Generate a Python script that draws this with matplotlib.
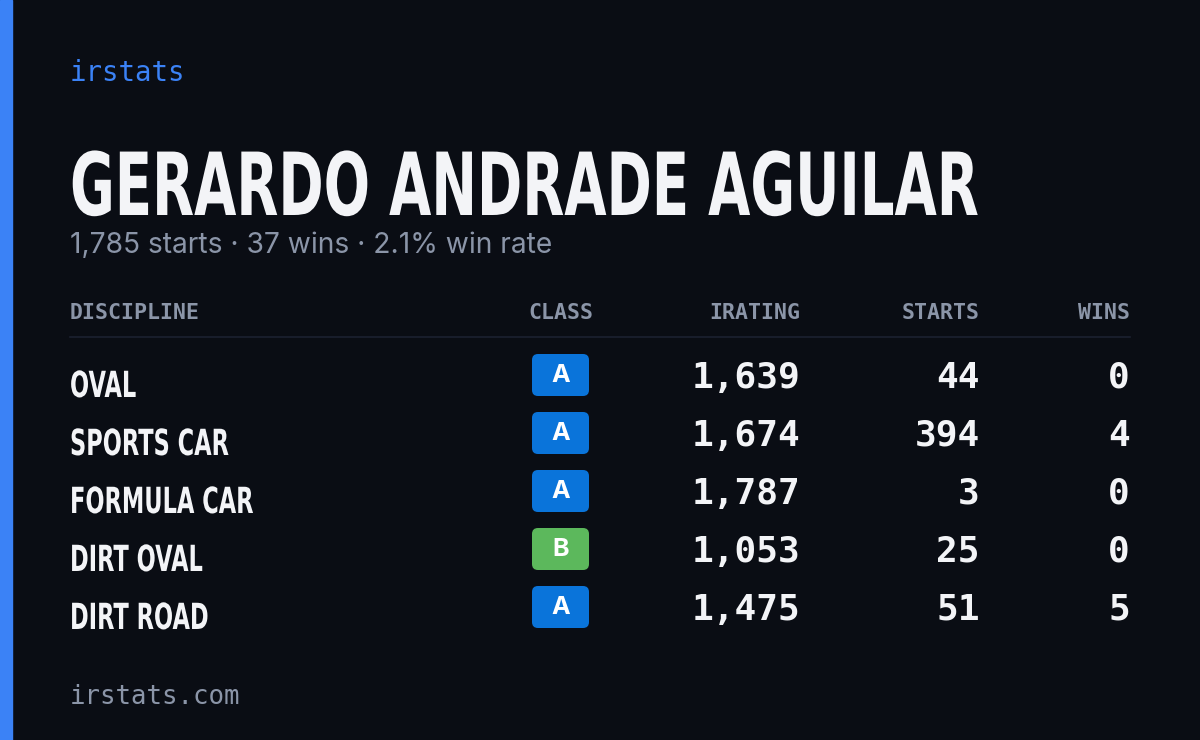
import matplotlib
matplotlib.use("Agg")
import matplotlib.pyplot as plt
from matplotlib.patches import FancyBboxPatch, Rectangle, PathPatch
from matplotlib.textpath import TextPath
from matplotlib.font_manager import FontProperties
from matplotlib.transforms import Affine2D

name = "GERARDO ANDRADE AGUILAR"
subtitle = "1,785 starts · 37 wins · 2.1% win rate"
headers = ["DISCIPLINE", "CLASS", "IRATING", "STARTS", "WINS"]
disciplines = ["OVAL", "SPORTS CAR", "FORMULA CAR", "DIRT OVAL", "DIRT ROAD"]
classes = ["A", "A", "A", "B", "A"]
iratings = [1639, 1674, 1787, 1053, 1475]
starts = [44, 394, 3, 25, 51]
wins = [0, 4, 0, 0, 5]

mono = "DejaVu Sans Mono"
sans = "Inter"
BG = "#0a0d14"; MUTED = "#8b95a8"; WHITE = "#f3f4f7"
fp = FontProperties(family="DejaVu Sans", weight="bold")

fig = plt.figure(figsize=(12, 7.4), dpi=100, facecolor=BG)
ax = fig.add_axes([0, 0, 1, 1]); ax.set_xlim(0, 1200); ax.set_ylim(740, 0); ax.axis("off")
ax.add_patch(Rectangle((0, 0), 12, 740, color="#3b82f6"))

def cond_text(s, x, baseline, size, sx):
    p = TextPath((0, 0), s, size=size, prop=fp)
    p = p.transformed(Affine2D().scale(sx, -1).translate(x, baseline))
    ax.add_patch(PathPatch(p, fc=WHITE, ec="none", lw=0))

def width(s, size):
    e = TextPath((0, 0), s, size=size, prop=fp).get_extents()
    return e.x1 - e.x0

ax.text(70, 73, "irstats", color="#3b82f6", fontsize=19.8, family=mono, va="center")
cond_text(name, 70, 215, 87, 905 / width(name, 87))
ax.text(70, 245, subtitle, color=MUTED, fontsize=20.3, family=sans, va="center")

hx = [(70, "left"), (593, "right"), (800, "right"), (980, "right"), (1130, "right")]
for (x, ha), h in zip(hx, headers):
    ax.text(x, 313, h, color=MUTED, fontsize=15.5, family=mono, weight="bold", ha=ha, va="center")
ax.plot([70, 1130], [337, 337], color="#1c2130", lw=1.2)

sxr = 181 / width("FORMULA CAR", 36)
for i, (d, c, r, s, w) in enumerate(zip(disciplines, classes, iratings, starts, wins)):
    y = 382 + 58 * i
    cond_text(d, 70, y + 15, 36, sxr)
    col = "#0a74da" if c == "A" else "#5cb85c"
    ax.add_patch(FancyBboxPatch((532, y - 28), 57, 42, boxstyle="round,pad=0,rounding_size=6",
                                fc=col, ec="none"))
    ax.text(560.5, y - 7, c, color="white", fontsize=18, family=sans, weight="bold", ha="center", va="center")
    for x, v in [(800, f"{r:,}"), (980, f"{s:,}"), (1130, f"{w:,}")]:
        ax.text(x, y - 4, v, color=WHITE, fontsize=26, family=mono, weight="bold", ha="right", va="center")

ax.text(70, 697, "irstats.com", color=MUTED, fontsize=18.5, family=mono, va="center")
fig.savefig("out.png", dpi=100, facecolor=BG)
